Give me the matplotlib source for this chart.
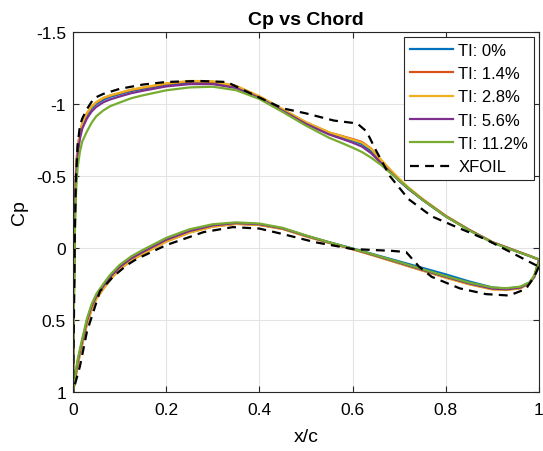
import numpy as np
import matplotlib
matplotlib.use('Agg')
import matplotlib.pyplot as plt

plt.rcParams['font.family'] = ['Liberation Sans', 'DejaVu Sans']

# CFD sample stations (upper and lower surface)
x_up = [0, 0.002, 0.004, 0.007, 0.01, 0.015, 0.02, 0.03, 0.04, 0.05, 0.065, 0.08, 0.1, 0.125, 0.15,
        0.2, 0.25, 0.3, 0.35, 0.4, 0.45, 0.5, 0.55, 0.58, 0.6, 0.62, 0.64, 0.66, 0.68, 0.7, 0.72,
        0.75, 0.8, 0.85, 0.9, 0.95, 0.98, 1.0]
x_lo = [0, 0.002, 0.004, 0.007, 0.01, 0.015, 0.02, 0.03, 0.04, 0.05, 0.065, 0.08, 0.1, 0.125, 0.15,
        0.2, 0.25, 0.3, 0.35, 0.4, 0.45, 0.5, 0.55, 0.6, 0.65, 0.7, 0.75, 0.8, 0.85, 0.9, 0.93,
        0.96, 0.98, 0.99, 1.0]

labels = ['TI: 0%', 'TI: 1.4%', 'TI: 2.8%', 'TI: 5.6%', 'TI: 11.2%']

cp_up_0 = [1.0, 0.3, -0.25, -0.55, -0.68, -0.79, -0.855, -0.925, -0.97, -1.0, -1.03, -1.05, -1.068, -1.09, -1.105,
           -1.133, -1.148, -1.146, -1.118, -1.048, -0.958, -0.868, -0.797, -0.767, -0.747, -0.722, -0.672, -0.602,
           -0.532, -0.467, -0.41, -0.335, -0.22, -0.125, -0.04, 0.02, 0.055, 0.08]
cp_up_14 = [1.0, 0.3, -0.27, -0.57, -0.7, -0.8, -0.865, -0.935, -0.98, -1.01, -1.04, -1.058, -1.075, -1.097, -1.112,
            -1.14, -1.156, -1.154, -1.124, -1.052, -0.962, -0.872, -0.802, -0.775, -0.757, -0.737, -0.69, -0.612,
            -0.542, -0.475, -0.415, -0.338, -0.222, -0.126, -0.04, 0.02, 0.055, 0.08]
cp_up_28 = [1.0, 0.3, -0.27, -0.57, -0.7, -0.8, -0.868, -0.938, -0.983, -1.013, -1.043, -1.06, -1.078, -1.1, -1.115,
            -1.143, -1.16, -1.158, -1.126, -1.054, -0.964, -0.874, -0.803, -0.773, -0.753, -0.732, -0.688, -0.618,
            -0.548, -0.482, -0.421, -0.342, -0.225, -0.128, -0.042, 0.018, 0.054, 0.08]
cp_up_56 = [1.0, 0.32, -0.22, -0.52, -0.65, -0.76, -0.83, -0.9, -0.948, -0.98, -1.012, -1.032, -1.052, -1.075, -1.092,
            -1.122, -1.138, -1.138, -1.111, -1.043, -0.953, -0.862, -0.788, -0.755, -0.732, -0.705, -0.658, -0.594,
            -0.53, -0.468, -0.412, -0.336, -0.221, -0.126, -0.04, 0.02, 0.055, 0.08]
cp_up_112 = [1.0, 0.4, -0.1, -0.42, -0.56, -0.67, -0.74, -0.81, -0.87, -0.915, -0.955, -0.985, -1.01, -1.04, -1.06,
             -1.095, -1.115, -1.12, -1.096, -1.035, -0.945, -0.85, -0.765, -0.725, -0.697, -0.667, -0.627, -0.58,
             -0.525, -0.47, -0.415, -0.335, -0.22, -0.123, -0.038, 0.022, 0.055, 0.08]

cp_lo_0 = [1.0, 0.96, 0.92, 0.86, 0.8, 0.725, 0.655, 0.515, 0.415, 0.345, 0.275, 0.21, 0.14, 0.08, 0.035,
           -0.05, -0.112, -0.152, -0.17, -0.163, -0.135, -0.085, -0.04, 0.003, 0.048, 0.093, 0.138, 0.183,
           0.232, 0.274, 0.282, 0.272, 0.24, 0.2, 0.09]
cp_lo_14 = [1.0, 0.965, 0.93, 0.87, 0.81, 0.735, 0.665, 0.525, 0.425, 0.352, 0.282, 0.217, 0.147, 0.086, 0.04,
            -0.045, -0.108, -0.149, -0.168, -0.161, -0.133, -0.082, -0.036, 0.008, 0.056, 0.106, 0.156, 0.205,
            0.25, 0.285, 0.29, 0.278, 0.245, 0.2, 0.09]
cp_lo_28 = [1.0, 0.965, 0.93, 0.87, 0.81, 0.737, 0.668, 0.528, 0.428, 0.355, 0.285, 0.22, 0.15, 0.088, 0.042,
            -0.044, -0.107, -0.148, -0.167, -0.16, -0.132, -0.081, -0.035, 0.009, 0.057, 0.107, 0.157, 0.206,
            0.252, 0.288, 0.292, 0.28, 0.247, 0.2, 0.09]
cp_lo_56 = [1.0, 0.955, 0.91, 0.85, 0.79, 0.715, 0.645, 0.505, 0.405, 0.335, 0.265, 0.2, 0.132, 0.072, 0.027,
            -0.057, -0.118, -0.157, -0.173, -0.165, -0.136, -0.085, -0.038, 0.006, 0.053, 0.102, 0.152, 0.2,
            0.246, 0.282, 0.287, 0.275, 0.242, 0.2, 0.09]
cp_lo_112 = [1.0, 0.95, 0.9, 0.835, 0.775, 0.7, 0.628, 0.49, 0.39, 0.32, 0.25, 0.185, 0.118, 0.058, 0.013,
             -0.07, -0.13, -0.165, -0.178, -0.17, -0.14, -0.088, -0.04, 0.004, 0.05, 0.098, 0.147, 0.195,
             0.24, 0.274, 0.279, 0.268, 0.238, 0.19, 0.1]

# XFOIL prediction
xf_x_up = [0, 0.002, 0.004, 0.006, 0.01, 0.015, 0.02, 0.03, 0.045, 0.065, 0.1, 0.15, 0.2, 0.27, 0.33, 0.4,
           0.45, 0.5, 0.56, 0.61, 0.63, 0.65, 0.68, 0.72, 0.77, 0.82, 0.886, 0.94, 1.0]
xf_cp_up = [1.0, 0.5, -0.1, -0.45, -0.72, -0.85, -0.9, -0.965, -1.04, -1.07, -1.105, -1.135, -1.153, -1.16, -1.153,
            -1.045, -0.97, -0.935, -0.885, -0.865, -0.81, -0.68, -0.50, -0.34, -0.22, -0.15, -0.06, 0.03, 0.13]
xf_x_lo = [0, 0.004, 0.01, 0.015, 0.03, 0.058, 0.086, 0.115, 0.137, 0.2, 0.28, 0.343, 0.4, 0.45, 0.52, 0.6,
           0.685, 0.715, 0.743, 0.77, 0.83, 0.886, 0.936, 0.972, 0.99, 1.0]
xf_cp_lo = [1.0, 0.95, 0.88, 0.82, 0.58, 0.30, 0.20, 0.12, 0.076, -0.02, -0.11, -0.145, -0.135, -0.097, -0.04,
            0.007, 0.02, 0.028, 0.13, 0.2, 0.28, 0.32, 0.33, 0.285, 0.2, 0.13]

colors = ['#0072BD', '#D95319', '#EDB120', '#7E2F8E', '#77AC30']
cp_up = [cp_up_0, cp_up_14, cp_up_28, cp_up_56, cp_up_112]
cp_lo = [cp_lo_0, cp_lo_14, cp_lo_28, cp_lo_56, cp_lo_112]

fig = plt.figure(figsize=(5.43, 4.52), dpi=100)
ax = fig.add_axes([0.1344, 0.1305, 0.858, 0.7965])

# one line per case: trailing edge lower -> leading edge -> trailing edge upper
for lab, col, up, lo in zip(labels, colors, cp_up, cp_lo):
    xs = np.concatenate([np.array(x_lo)[::-1], x_up[1:]])
    ys = np.concatenate([np.array(lo)[::-1], up[1:]])
    ax.plot(xs, ys, color=col, linewidth=1.6, label=lab, solid_joinstyle='round')

xs = np.concatenate([np.array(xf_x_lo)[::-1], xf_x_up[1:]])
ys = np.concatenate([np.array(xf_cp_lo)[::-1], xf_cp_up[1:]])
ax.plot(xs, ys, color='black', linestyle='--', linewidth=1.6, dashes=(4, 2.8), label='XFOIL')

ax.set_xlim(0, 1)
ax.set_ylim(1, -1.5)
ax.set_xticks([0, 0.2, 0.4, 0.6, 0.8, 1])
ax.set_xticklabels(['0', '0.2', '0.4', '0.6', '0.8', '1'])
ax.set_yticks([-1.5, -1, -0.5, 0, 0.5, 1])
ax.set_yticklabels(['-1.5', '-1', '-0.5', '0', '0.5', '1'])
ax.grid(True, color='#e3e3e3', linewidth=0.8)
ax.set_axisbelow(True)
ax.tick_params(direction='in', top=True, right=True, labelsize=12.5, length=4, color='#262626')
ax.tick_params(axis='x', pad=7)
ax.tick_params(axis='y', pad=5)
for s in ax.spines.values():
    s.set_color('#262626')
    s.set_linewidth(0.8)

ax.set_title('Cp vs Chord', fontsize=14, fontweight='bold', pad=6)
ax.set_xlabel('x/c', fontsize=14, labelpad=8)
ax.set_ylabel('Cp', fontsize=14, labelpad=6)

leg = ax.legend(loc='upper right', fontsize=12, fancybox=False, framealpha=1,
                edgecolor='#262626', borderaxespad=0.3, handlelength=2.6,
                handletextpad=0.3, labelspacing=0.5, borderpad=0.35)
leg.get_frame().set_linewidth(0.8)

fig.savefig('out.png', dpi=100)
